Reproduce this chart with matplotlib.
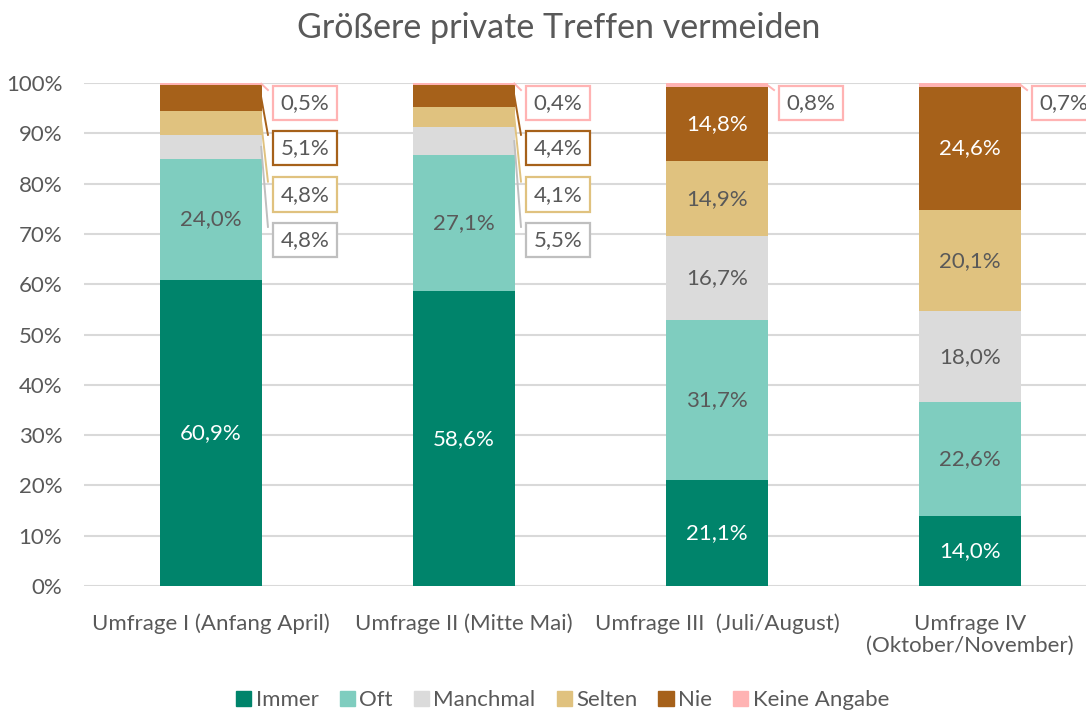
# Stacked bar chart | Größere private Treffen vermeiden | four survey waves
import numpy as np
import matplotlib.pyplot as plt
from matplotlib.patches import Patch

# ── DATA ──────────────────────────────────────────────────
categories = ["Umfrage I (Anfang April)", "Umfrage II (Mitte Mai)",
              "Umfrage III  (Juli/August)", "Umfrage IV\n(Oktober/November)"]
series_names = ["Immer", "Oft", "Manchmal", "Selten", "Nie", "Keine Angabe"]
immer = [60.9, 58.6, 21.1, 14.0]
oft = [24.0, 27.1, 31.7, 22.6]
manchmal = [4.8, 5.5, 16.7, 18.0]
selten = [4.8, 4.1, 14.9, 20.1]
nie = [5.1, 4.4, 14.8, 24.6]
keine = [0.5, 0.4, 0.8, 0.7]
yticks = [0, 10, 20, 30, 40, 50, 60, 70, 80, 90, 100]

# ── CONFIG ────────────────────────────────────────────────
CONFIG = {
    "colors": ["#00846B", "#7FCDBF", "#DBDBDB", "#E0C27F", "#A6611A", "#FFB3B3"],
    "edge_colors": ["#00846B", "#7FCDBF", "#BFBFBF", "#E0C27F", "#A6611A", "#FFB3B3"],
    "label_colors": ["white", "#595959", "#595959", "#595959", "white", "#595959"],
    "text": "#595959",
    "grid": "#D9D9D9",
    "bar_width": 0.403,
    "fs": 16,
}
plt.rcParams['font.family'] = ["Lato", "DejaVu Sans"]

values = np.array([immer, oft, manchmal, selten, nie, keine])
x = np.arange(len(categories))

fig = plt.figure(figsize=(10.86, 7.10), dpi=100)
ax = fig.add_axes([0.0778, 0.1746, 0.932, 0.7085])

bottoms = np.zeros(len(categories))
for k, name in enumerate(series_names):
    ax.bar(x, values[k], bottom=bottoms, width=CONFIG["bar_width"],
           color=CONFIG["colors"][k], zorder=2, label=name)
    bottoms += values[k]

# inside labels: segments large enough to hold text
cum = np.cumsum(values, axis=0) - values
for i in range(len(categories)):
    for k in range(len(series_names)):
        v = values[k, i]
        if v >= 10:
            ax.text(x[i], cum[k, i] + v / 2, f"{v:.1f}%".replace(".", ","),
                    ha="center", va="center", fontsize=CONFIG["fs"],
                    color=CONFIG["label_colors"][k], zorder=3)

# callout labels for small segments (box y positions in %)
box_y = [96.0, 87.1, 77.8, 68.8]
callout_order = [5, 4, 3, 2]  # Keine, Nie, Selten, Manchmal
half = CONFIG["bar_width"] / 2
for i in range(len(categories)):
    small = [k for k in callout_order if values[k, i] < 10]
    for slot, k in enumerate(small):
        v = values[k, i]
        yc = cum[k, i] + v / 2
        yb = box_y[slot]
        col = CONFIG["edge_colors"][k]
        ax.plot([x[i] + half - 0.003, x[i] + 0.225], [min(yc, 99.9), yb + 2.6],
                color=col, lw=1.4, zorder=3, clip_on=False)
        ax.text(x[i] + 0.372, yb, f"{v:.1f}%".replace(".", ","),
                ha="center", va="center", fontsize=CONFIG["fs"], color=CONFIG["text"],
                zorder=4, clip_on=False,
                bbox=dict(boxstyle="square,pad=0.33", fc="white", ec=col, lw=1.6))

ax.set_xlim(-0.5, len(categories) - 0.5)
ax.set_ylim(0, 100)
ax.set_yticks(yticks)
ax.set_yticklabels([f"{t}%" for t in yticks])
ax.set_xticks(x)
ax.set_xticklabels(categories, linespacing=1.1)
ax.tick_params(axis="both", length=0, labelsize=CONFIG["fs"], colors=CONFIG["text"])
ax.tick_params(axis="x", pad=20)
ax.tick_params(axis="y", pad=16)
for lbl in ax.get_yticklabels():
    lbl.set_horizontalalignment("right")
ax.yaxis.grid(True, color=CONFIG["grid"], lw=1.5, zorder=0)
ax.set_axisbelow(True)
for s in ax.spines.values():
    s.set_visible(False)

fig.text(0.514, 0.96, "Größere private Treffen vermeiden", ha="center", va="center",
         fontsize=24.5, color=CONFIG["text"])

handles = [Patch(color=c, label=n) for c, n in zip(CONFIG["colors"], series_names)]
fig.legend(handles=handles, loc="center", bbox_to_anchor=(0.518, 0.014), ncol=6,
           frameon=False, fontsize=CONFIG["fs"], handlelength=0.68, handleheight=0.7,
           handletextpad=0.2, columnspacing=0.95, labelcolor=CONFIG["text"])

fig.savefig("out.png", dpi=100)
